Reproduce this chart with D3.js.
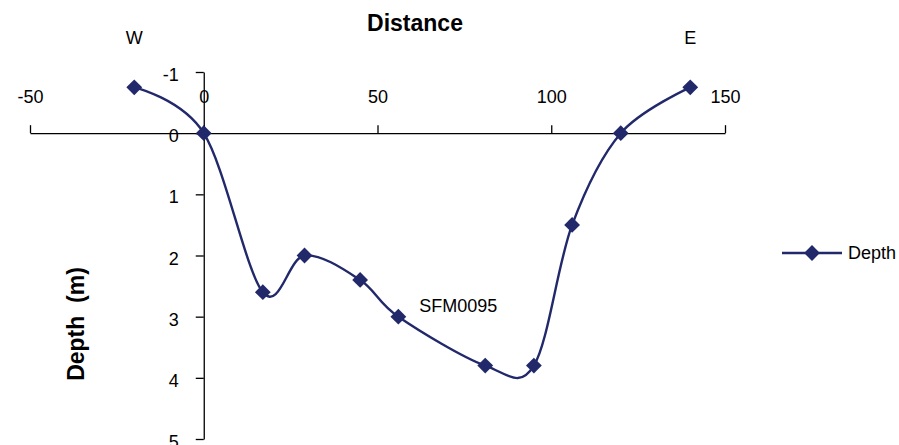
<!DOCTYPE html>
<html>
<head>
<meta charset="utf-8">
<script src="https://cdn.jsdelivr.net/npm/d3@7"></script>
<style>
  html, body { margin: 0; padding: 0; background: #fff; }
  svg { display: block; font-family: "Liberation Sans", Arial, sans-serif; }
</style>
</head>
<body>
<svg id="chart" width="899" height="445"></svg>
<script>
const distance = [-20, 0, 17, 29, 45, 56, 81, 95, 106, 120, 140];
const depth = [-0.75, 0, 2.6, 2, 2.4, 3, 3.8, 3.8, 1.5, 0, -0.75];
const xTicks = [-50, 0, 50, 100, 150];
const yTicks = [-1, 0, 1, 2, 3, 4, 5];
const seriesName = "Depth";
const titleText = "Distance";
const yTitle = "Depth  (m)";
const sideLabels = [{text: "W", x: -20}, {text: "E", x: 140}];
const siteLabel = {text: "SFM0095", x: 62, y: 2.92};

const color = "#22296B";
const svg = d3.select("#chart");

const x = d3.scaleLinear().domain([-50, 150]).range([30, 725]);
const y = d3.scaleLinear().domain([-1, 5]).range([72, 439]);
const fmt = d => String(d);

// X axis (through depth 0)
const xAxis = svg.append("g")
  .attr("transform", `translate(0,${y(0)})`)
  .call(d3.axisTop(x).tickValues(xTicks).tickFormat(fmt).tickSize(8).tickPadding(22).tickSizeOuter(0));
// Y axis (through distance 0)
const yAxis = svg.append("g")
  .attr("transform", `translate(${x(0)},0)`)
  .call(d3.axisLeft(y).tickValues(yTicks).tickFormat(fmt).tickSize(8).tickPadding(17).tickSizeOuter(0));

[xAxis, yAxis].forEach(g => {
  g.select(".domain").attr("stroke", "#000").attr("stroke-width", 1.3);
  g.selectAll(".tick line").attr("stroke", "#000").attr("stroke-width", 1.3);
  g.selectAll(".tick text").attr("fill", "#000").attr("font-size", 18)
    .attr("font-family", "'Liberation Sans', Arial, sans-serif");
});
yAxis.selectAll(".tick text").attr("dy", "0.48em");

// Titles
svg.append("text").attr("x", 415).attr("y", 31).attr("text-anchor", "middle")
  .attr("font-size", 23).attr("font-weight", "bold").text(titleText);
svg.append("text").attr("transform", "translate(84,324) rotate(-90)")
  .attr("text-anchor", "middle").attr("font-size", 23).attr("font-weight", "bold")
  .style("white-space", "pre").text(yTitle);

// Side labels
sideLabels.forEach(s => {
  svg.append("text").attr("x", x(s.x)).attr("y", 44).attr("text-anchor", "middle")
    .attr("font-size", 18).text(s.text);
});
svg.append("text").attr("x", x(siteLabel.x)).attr("y", y(siteLabel.y)).attr("font-size", 18).text(siteLabel.text);

// Series
const pts = distance.map((d, i) => [d, depth[i]]);
const line = d3.line().x(d => x(d[0])).y(d => y(d[1])).curve(d3.curveCardinal.tension(0));
svg.append("path").datum(pts).attr("d", line).attr("fill", "none")
  .attr("stroke", color).attr("stroke-width", 2.4);

const diamond = d3.symbol().type(d3.symbolSquare).size(125);
svg.selectAll(".pt").data(pts).enter().append("path")
  .attr("d", diamond)
  .attr("transform", d => `translate(${x(d[0])},${y(d[1])}) rotate(45)`)
  .attr("fill", color);

// Legend
const lg = svg.append("g");
lg.append("line").attr("x1", 782).attr("x2", 842).attr("y1", 253).attr("y2", 253)
  .attr("stroke", color).attr("stroke-width", 2.4);
lg.append("path").attr("d", diamond).attr("transform", "translate(812,253) rotate(45)").attr("fill", color);
lg.append("text").attr("x", 848).attr("y", 259).attr("font-size", 18).text(seriesName);
</script>
</body>
</html>
